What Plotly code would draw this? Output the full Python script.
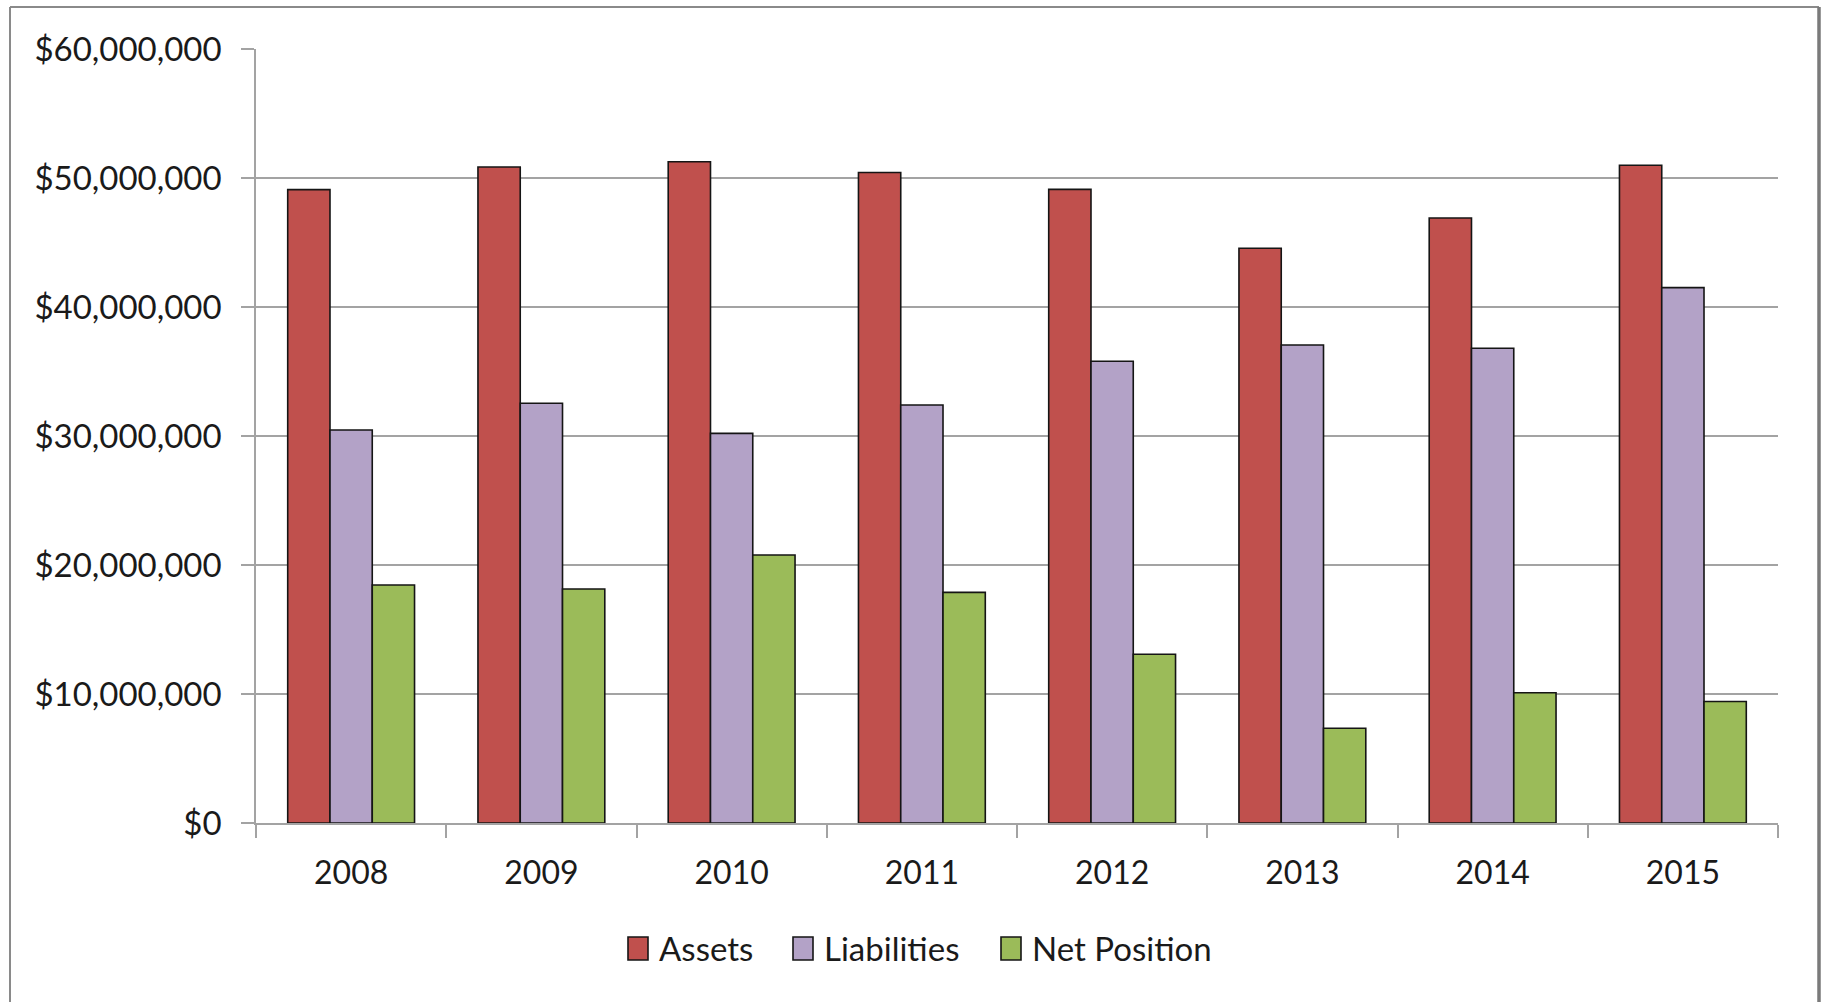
import plotly.graph_objects as go

# Fiscal years and statement of net position totals (dollars)
years = ["2008", "2009", "2010", "2011", "2012", "2013", "2014", "2015"]
assets = [49_100_000, 50_850_000, 51_260_000, 50_430_000, 49_120_000, 44_550_000, 46_900_000, 50_990_000]
liabilities = [30_470_000, 32_540_000, 30_200_000, 32_400_000, 35_790_000, 37_050_000, 36_800_000, 41_500_000]
net_position = [18_450_000, 18_140_000, 20_770_000, 17_880_000, 13_080_000, 7_340_000, 10_100_000, 9_420_000]

series_names = ["Assets", "Liabilities", "Net Position"]
series_values = [assets, liabilities, net_position]
series_colors = ["#C0504D", "#B3A2C7", "#9BBB59"]

y_ticks = [0, 10_000_000, 20_000_000, 30_000_000, 40_000_000, 50_000_000, 60_000_000]

W, H = 1826, 1002
ML, MR, MT, MB = 256, 48, 49, 179
PW, PH = W - ML - MR, H - MT - MB

FONT = "Lato, 'Open Sans', sans-serif"
TXT = "#1a1a1a"
GRID = "#a3a3a3"


def px_x(x):
    return (x - ML) / PW


def px_y(y):
    return (H - MB - y) / PH


fig = go.Figure()
for name, vals, col in zip(series_names, series_values, series_colors):
    fig.add_trace(go.Bar(
        name=name, x=years, y=vals,
        marker=dict(color=col, line=dict(color="#151515", width=1.6)),
        showlegend=False,
    ))

# Legend drawn as swatches + labels, centred on the chart area
legend_items = [(628, 657, "Assets"), (793, 822, "Liabilities"), (1001, 1030, "Net Position")]
shapes = []
annotations = []
for (sx, tx, label), col in zip(legend_items, series_colors):
    shapes.append(dict(type="rect", xref="paper", yref="paper",
                       x0=px_x(sx), x1=px_x(sx + 20), y0=px_y(937), y1=px_y(960),
                       fillcolor=col, line=dict(color="#151515", width=1.6)))
    annotations.append(dict(xref="paper", yref="paper", x=px_x(tx), y=px_y(948),
                            xanchor="left", yanchor="middle", showarrow=False,
                            text=label, font=dict(family=FONT, size=33, color=TXT)))

# Chart-area frame (left, top, right edges)
frame = dict(xref="paper", yref="paper", type="line")
shapes += [
    dict(frame, x0=px_x(10), x1=px_x(10), y0=px_y(7), y1=px_y(1010), line=dict(color="#8a8a8a", width=2)),
    dict(frame, x0=px_x(10), x1=px_x(1819), y0=px_y(7), y1=px_y(7), line=dict(color="#8a8a8a", width=2)),
    dict(frame, x0=px_x(1819), x1=px_x(1819), y0=px_y(7), y1=px_y(1010), line=dict(color="#7a7a7a", width=3.5)),
]

fig.update_layout(
    width=W, height=H,
    margin=dict(l=ML, r=MR, t=MT, b=MB),
    paper_bgcolor="white", plot_bgcolor="white",
    barmode="group", bargap=1.5 / 4.5, bargroupgap=0,
    font=dict(family=FONT, size=32, color=TXT),
    shapes=shapes, annotations=annotations,
    showlegend=False,
)

fig.update_xaxes(
    type="category", tickson="boundaries",
    ticks="outside", ticklen=13, tickwidth=1.5, tickcolor=GRID,
    showline=True, linecolor=GRID, linewidth=1.5,
    showgrid=False, ticklabelstandoff=21,
    tickfont=dict(family=FONT, size=32, color=TXT),
)
fig.update_yaxes(
    range=[0, 60_000_000], tickvals=y_ticks, tickformat="$,d",
    ticks="outside", ticklen=13, tickwidth=1.5, tickcolor=GRID,
    showline=True, linecolor=GRID, linewidth=1.5,
    showgrid=True, gridcolor=GRID, gridwidth=1.5,
    zeroline=False, ticklabelstandoff=13,
    tickfont=dict(family=FONT, size=33, color=TXT),
)

fig.write_html("out.html")
